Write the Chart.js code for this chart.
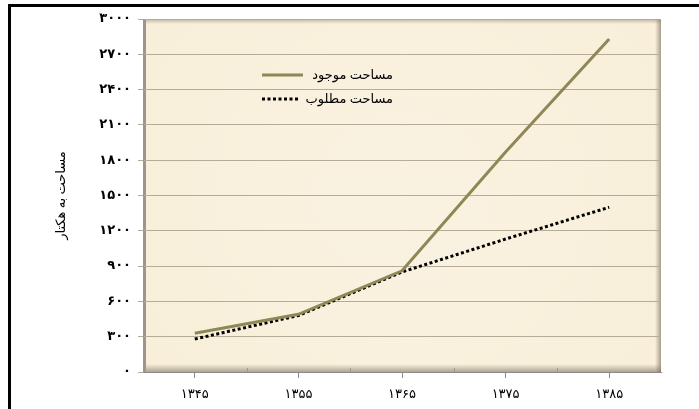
<!DOCTYPE html>
<html lang="fa">
<head>
<meta charset="utf-8">
<script src="https://cdn.jsdelivr.net/npm/chart.js@4/dist/chart.umd.min.js"></script>
<style>
  html,body{margin:0;padding:0;background:#fff;}
  canvas{display:block;}
</style>
</head>
<body>
<canvas id="graph" width="699" height="409"></canvas>
<script>
/* ---- données ---- */
const annees = ['۱۳۴۵','۱۳۵۵','۱۳۶۵','۱۳۷۵','۱۳۸۵'];
const surfaceExistante = [330, 490, 860, 1870, 2830];
const surfaceRequise   = [280, 480, 850, 1130, 1400];
const nomsSeries = ['مساحت موجود', 'مساحت مطلوب'];
const titreY = 'مساحت به هکتار';
const yMin = 0, yMax = 3000, yPas = 300;

const OLIVE = '#8d8856';
const faDigits = n => String(n).replace(/\d/g, d => '۰۱۲۳۴۵۶۷۸۹'[d]);

/* fond parchemin + ombres du cadre */
const fondParchemin = {
  id:'fond',
  beforeDraw(c){
    const {ctx, chartArea:a} = c;
    ctx.save();
    ctx.fillStyle = '#f8eed8';
    ctx.fillRect(a.left, a.top, a.width, a.height);
    const g = ctx.createRadialGradient(a.left+a.width*0.5, a.top+a.height*0.5, 30, a.left+a.width*0.5, a.top+a.height*0.5, a.width*0.7);
    g.addColorStop(0,'rgba(251,245,230,0.6)'); g.addColorStop(1,'rgba(251,245,230,0)');
    ctx.fillStyle = g; ctx.fillRect(a.left, a.top, a.width, a.height);
    // ombre bas
    let s = ctx.createLinearGradient(0, a.bottom-8, 0, a.bottom);
    s.addColorStop(0,'rgba(120,110,90,0)'); s.addColorStop(1,'rgba(110,100,85,0.55)');
    ctx.fillStyle = s; ctx.fillRect(a.left, a.bottom-8, a.width, 8);
    // ombre haut
    s = ctx.createLinearGradient(0, a.top, 0, a.top+5);
    s.addColorStop(0,'rgba(120,110,90,0.45)'); s.addColorStop(1,'rgba(120,110,90,0)');
    ctx.fillStyle = s; ctx.fillRect(a.left, a.top, a.width, 5);
    // ombre droite
    s = ctx.createLinearGradient(a.right-6, 0, a.right, 0);
    s.addColorStop(0,'rgba(120,110,90,0)'); s.addColorStop(1,'rgba(110,100,85,0.6)');
    ctx.fillStyle = s; ctx.fillRect(a.right-6, a.top, 6, a.height);
    // bord gauche
    ctx.fillStyle = '#9b978e'; ctx.fillRect(a.left, a.top, 3, a.height);
    ctx.restore();
  },
  afterDraw(c){
    const {ctx, chartArea:a} = c;
    ctx.save();
    // petites graduations entre catégories, côté intérieur
    ctx.strokeStyle = '#9b978e'; ctx.lineWidth = 1;
    const pas = a.width / annees.length;
    for(let i=1;i<annees.length;i++){
      const x = Math.round(a.left + i*pas) + 0.5;
      ctx.beginPath(); ctx.moveTo(x, a.bottom-4); ctx.lineTo(x, a.bottom); ctx.stroke();
    }
    ctx.fillStyle = '#000';
    ctx.fillRect(8, 4, 691, 3);
    ctx.fillRect(8, 4, 3, 405);
    ctx.restore();
  }
};

/* légende posée dans la zone du graphique */
const legendeInterne = {
  id:'legende',
  afterDatasetsDraw(c){
    const ctx = c.ctx;
    ctx.save();
    ctx.lineWidth = 3;
    ctx.strokeStyle = OLIVE;
    ctx.beginPath(); ctx.moveTo(262, 75); ctx.lineTo(303, 75); ctx.stroke();
    ctx.strokeStyle = '#000';
    ctx.setLineDash([3, 2.5]);
    ctx.beginPath(); ctx.moveTo(262, 99); ctx.lineTo(299, 99); ctx.stroke();
    ctx.setLineDash([]);
    ctx.fillStyle = '#000';
    ctx.font = '13px "Liberation Serif", "DejaVu Sans", serif';
    ctx.textAlign = 'right'; ctx.textBaseline = 'middle';
    ctx.fillText(nomsSeries[0], 393, 76);
    ctx.fillText(nomsSeries[1], 393, 100);
    ctx.restore();
  }
};

new Chart(document.getElementById('graph'), {
  type:'line',
  data:{labels:annees, datasets:[
    {label:nomsSeries[0], data:surfaceExistante, borderColor:OLIVE, borderWidth:3, pointRadius:0, tension:0},
    {label:nomsSeries[1], data:surfaceRequise, borderColor:'#000', borderWidth:3, borderDash:[3,2.5], pointRadius:0, tension:0}
  ]},
  options:{
    responsive:false, animation:false, events:[],
    layout:{padding:{left:50, right:38, top:19, bottom:0}},
    plugins:{legend:{display:false}, tooltip:{enabled:false}},
    scales:{
      x:{
        offset:true,
        afterFit: s => { s.height = 37; },
        grid:{drawOnChartArea:false, offset:false, color:'#8a8a8a', tickLength:6},
        border:{color:'#8a8a8a'},
        ticks:{color:'#000', padding:9, font:{family:'"DejaVu Sans", sans-serif', size:13}}
      },
      y:{
        min:yMin, max:yMax,
        afterFit: s => { s.width = 93; },
        grid:{color:'#b5ab98', tickLength:5},
        border:{color:'#9b978e'},
        ticks:{stepSize:yPas, color:'#000', padding:7, callback:v => faDigits(v),
               font:{family:'"DejaVu Sans", sans-serif', size:13, weight:'bold'}},
        title:{display:true, text:titreY, color:'#000',
               font:{family:'"Liberation Serif", "DejaVu Sans", serif', size:13}}
      }
    }
  },
  plugins:[fondParchemin, legendeInterne]
});
</script>
</body>
</html>
